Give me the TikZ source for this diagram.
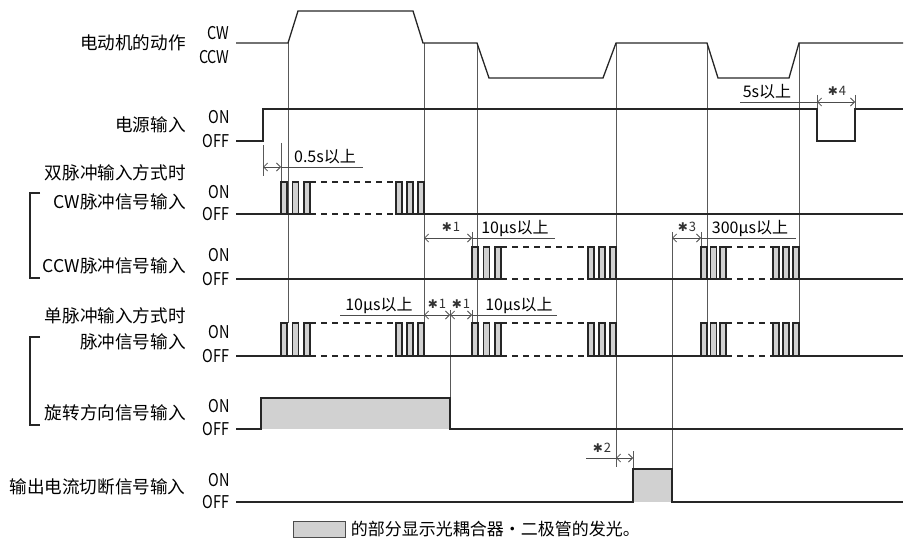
\documentclass[tikz,border=0pt]{standalone}
\usepackage{fontspec}
\setmainfont{Noto Sans CJK SC}
\newfontfamily\narrowfont[FakeStretch=0.82]{Noto Sans CJK SC}
\newfontfamily\symfont{DejaVu Sans}
\usetikzlibrary{arrows.meta, positioning}

% three pulses between a start and an end, on/off levels
\newcommand\pulsegroup[4]{%
  \foreach \k in {0,1,2}
    \draw[sig,lit] ({#1+\k*(#2-#1-6)/2},#4) rectangle ({#1+\k*(#2-#1-6)/2+6},#3);
}
% footnote mark
\newcommand\notemark[1]{{\symfont\fontsize{6}{7}\selectfont ✱}\kern0.4pt#1}

\begin{document}
\begin{tikzpicture}[x=0.5pt, y=-0.5pt,
    sig/.style={line width=0.65pt, draw=black!85},
    guide/.style={line width=0.45pt, draw=black!65},
    dashline/.style={dash pattern=on 3pt off 2.5pt},
    dim/.style={line width=0.4pt, draw=black!70, {Straight Barb[length=2pt,width=4pt]}-{Straight Barb[length=2pt,width=4pt]}},
    rule/.style={line width=0.4pt, draw=black!70},
    lit/.style={fill=black!18},
    rowname/.style={anchor=east, inner sep=0pt, font=\fontsize{8.8}{10}\selectfont},
    level/.style={anchor=east, inner sep=0pt, font=\narrowfont\fontsize{8.8}{10}\selectfont},
    note/.style={anchor=base, inner sep=0pt, font=\fontsize{8}{9}\selectfont},
    ref/.style={anchor=base, inner sep=0pt, font=\fontsize{6.5}{7}\selectfont, text=black!80},
    keybox/.style={draw=black!70, lit, line width=0.4pt, minimum width=26pt, minimum height=8pt, inner sep=0pt},
    keynote/.style={inner sep=0pt, font=\fontsize{8.5}{10}\selectfont}
  ]
  \useasboundingbox (0,0) rectangle (904,539);

  % row names
  \node[rowname] (motor) at (186,43) {电动机的动作};
  \node[rowname] (power) at (186,125) {电源输入};
  \node[rowname] (twomode) at (186,173) {双脉冲输入方式时};
  \node[rowname] (cwin) at (186,202) {CW脉冲信号输入};
  \node[rowname] (ccwin) at (186,266) {CCW脉冲信号输入};
  \node[rowname] (onemode) at (186,316) {单脉冲输入方式时};
  \node[rowname] (pulsein) at (186,342) {脉冲信号输入};
  \node[rowname] (dirin) at (186,413) {旋转方向信号输入};
  \node[rowname] (cutin) at (186,487) {输出电流切断信号输入};

  % level names
  \node[level] (lcw) at (230,33) {CW};
  \node[level] (lccw) at (230,57) {CCW};
  \foreach \on/\off/\n in {117/141/pw, 192/214/cw, 255/279/ccw, 332/356/pl, 406/429/dr, 480/502/ct}{
    \node[level] (on\n) at (230,\on) {ON};
    \node[level] (off\n) at (230,\off) {OFF};
  }

  % brackets
  \draw[sig] (40,193) -- (30,193) -- (30,278) -- (40,278);
  \draw[sig] (40,337) -- (30,337) -- (30,425) -- (40,425);

  % guide lines
  \draw[guide] (288,43) -- (288,323);
  \draw[guide] (424,43) -- (424,323);
  \draw[guide] (477,43) -- (477,323);
  \draw[guide] (616,43) -- (616,467);
  \draw[guide] (707,43) -- (707,323);
  \draw[guide] (799,43) -- (799,323);
  \draw[guide] (450,310) -- (450,398);
  \draw[guide] (672,232) -- (672,469);
  \draw[guide] (263,145) -- (263,176);
  \draw[guide] (281,143) -- (281,182);
  \draw[guide] (472,232) -- (472,247);
  \draw[guide] (701,232) -- (701,247);
  \draw[guide] (472,310) -- (472,323);
  \draw[guide] (817,95) -- (817,109);
  \draw[guide] (855,95) -- (855,109);
  \draw[guide] (633,451) -- (633,469);

  % motor
  \draw[sig] (236,43) -- (288,43) -- (298,11) -- (413,11) -- (423,43) -- (477,43) -- (489,78)
    -- (603,78) -- (616,43) -- (707,43) -- (718,78) -- (789,78) -- (799,43) -- (903,43);

  % power
  \draw[sig] (236,141) -- (263,141) -- (263,109) -- (817,109) -- (817,141) -- (855,141)
    -- (855,109) -- (903,109);

  % CW pulses
  \draw[sig] (236,214) -- (310,214) (396,214) -- (903,214);
  \draw[sig,dashline] (310,214) -- (396,214) (310,182) -- (396,182);
  \pulsegroup{281}{310}{182}{214}
  \pulsegroup{396}{424}{182}{214}

  % CCW pulses
  \draw[sig] (236,279) -- (501,279) (588,279) -- (726,279) (773,279) -- (903,279);
  \draw[sig,dashline] (501,279) -- (588,279) (501,247) -- (588,247)
    (726,279) -- (773,279) (726,247) -- (773,247);
  \pulsegroup{472}{501}{247}{279}
  \pulsegroup{588}{616}{247}{279}
  \pulsegroup{701}{726}{247}{279}
  \pulsegroup{773}{799}{247}{279}

  % single pulse
  \draw[sig] (236,356) -- (310,356) (396,356) -- (501,356) (588,356) -- (726,356) (773,356) -- (903,356);
  \draw[sig,dashline] (310,356) -- (396,356) (310,323) -- (396,323)
    (501,356) -- (588,356) (501,323) -- (588,323)
    (726,356) -- (773,356) (726,323) -- (773,323);
  \pulsegroup{281}{310}{323}{356}
  \pulsegroup{396}{424}{323}{356}
  \pulsegroup{472}{501}{323}{356}
  \pulsegroup{588}{616}{323}{356}
  \pulsegroup{701}{726}{323}{356}
  \pulsegroup{773}{799}{323}{356}

  % direction
  \fill[lit] (261,398) rectangle (450,429);
  \draw[sig] (236,429) -- (261,429) -- (261,398) -- (450,398) -- (450,429) -- (903,429);

  % current cut
  \fill[lit] (633,469) rectangle (672,502);
  \draw[sig] (236,502) -- (633,502) -- (633,469) -- (672,469) -- (672,502) -- (903,502);

  % 0.5s
  \coordinate (a05) at (263,167);
  \coordinate (b05) at (281,167);
  \coordinate (e05) at (363,167);
  \draw[dim] (a05) -- (b05);
  \draw[rule] (b05) -- (e05);
  \node[note] (t05) at (325,163) {0.5s以上};

  % 5s, *4
  \coordinate (s4) at (740,102);
  \coordinate (a4) at (817,102);
  \coordinate (b4) at (855,102);
  \draw[rule] (s4) -- (a4);
  \draw[dim] (a4) -- (b4);
  \node[note] (t5s) at (767,98) {5s以上};
  \node[ref] (r4) at (837,96) {\notemark{4}};

  % *1 on CCW
  \coordinate (a1) at (424,238);
  \coordinate (b1) at (472,238);
  \coordinate (e1) at (555,238);
  \draw[dim] (a1) -- (b1);
  \draw[rule] (b1) -- (e1);
  \node[ref] (r1) at (451,232) {\notemark{1}};
  \node[note] (t10a) at (515,234) {10μs以上};

  % *3
  \coordinate (a3) at (672,238);
  \coordinate (b3) at (701,238);
  \coordinate (e3) at (796,238);
  \draw[dim] (a3) -- (b3);
  \draw[rule] (b3) -- (e3);
  \node[ref] (r3) at (687,232) {\notemark{3}};
  \node[note] (t300) at (750,234) {300μs以上};

  % single pulse, *1 *1
  \coordinate (s1) at (340,315);
  \coordinate (c1) at (424,315);
  \coordinate (d1) at (450,315);
  \coordinate (f1) at (472,315);
  \coordinate (g1) at (557,315);
  \draw[rule] (s1) -- (c1);
  \draw[dim] (c1) -- (d1);
  \draw[dim] (d1) -- (f1);
  \draw[rule] (f1) -- (g1);
  \node[note] (t10b) at (379,311) {10μs以上};
  \node[ref] (r1b) at (437,309) {\notemark{1}};
  \node[ref] (r1c) at (461,309) {\notemark{1}};
  \node[note] (t10c) at (519,311) {10μs以上};

  % *2
  \coordinate (s2) at (586,458);
  \coordinate (a2) at (616,458);
  \coordinate (b2) at (633,458);
  \draw[rule] (s2) -- (a2);
  \draw[dim] (a2) -- (b2);
  \node[ref] (r2) at (602,452) {\notemark{2}};

  % key
  \node[keybox] (key) at (319,529) {};
  \node[keynote, right=2.5pt of key] (keytext) {的部分显示光耦合器·二极管的发光。};
\end{tikzpicture}
\end{document}
